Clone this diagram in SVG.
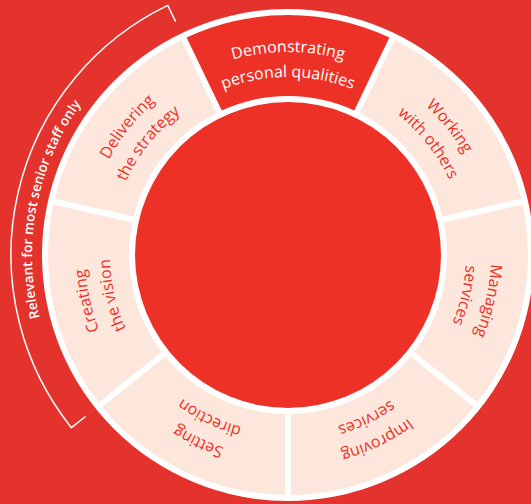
<svg xmlns="http://www.w3.org/2000/svg" width="531" height="504" viewBox="0 0 531 504">
<style>
.lbl{font-family:"Open Sans","DejaVu Sans",sans-serif;font-size:16px;fill:#ec3127;text-anchor:middle}
.w{fill:#ffffff}
.seg{fill:#fde6dc}
.note{font-family:"Open Sans","DejaVu Sans",sans-serif;font-size:13.5px;font-weight:600;fill:#ffffff;text-anchor:middle}
.sep{stroke:#ffffff;stroke-width:6}
</style>
<defs>
<path id="seg" d="M183.9,38.8 A240,240 0 0 1 392.1,38.8 L357.0,111.7 A159,159 0 0 0 219.0,111.7 Z"/>
<path id="r1" d="M144.46,111.46 A203,203 0 0 1 431.54,111.46"/>
<path id="r2" d="M162.14,129.14 A178,178 0 0 1 413.86,129.14"/>
<path id="r3" d="M106.98,73.98 A256,256 0 0 1 469.02,73.98"/>
<line id="sepl" x1="288" y1="108" x2="288" y2="12"/>
</defs>
<rect width="531" height="504" fill="#e4332c"/>
<circle cx="288" cy="255" r="246" fill="#ffffff"/>
<g id="demonstrating">
<use href="#seg" fill="#ee3127"/>
<text class="lbl w"><textPath href="#r1" startOffset="50%">Demonstrating</textPath></text>
<text class="lbl w"><textPath href="#r2" startOffset="50%">personal qualities</textPath></text>
</g>
<g id="working" transform="rotate(51.43 288 255)">
<use href="#seg" class="seg"/>
<text class="lbl"><textPath href="#r1" startOffset="50%">Working</textPath></text>
<text class="lbl"><textPath href="#r2" startOffset="50%">with others</textPath></text>
</g>
<g id="managing" transform="rotate(102.86 288 255)">
<use href="#seg" class="seg"/>
<text class="lbl"><textPath href="#r1" startOffset="50%">Managing</textPath></text>
<text class="lbl"><textPath href="#r2" startOffset="50%">services</textPath></text>
</g>
<g id="improving" transform="rotate(154.29 288 255)">
<use href="#seg" class="seg"/>
<text class="lbl"><textPath href="#r1" startOffset="50%">Improving</textPath></text>
<text class="lbl"><textPath href="#r2" startOffset="50%">services</textPath></text>
</g>
<g id="setting" transform="rotate(205.71 288 255)">
<use href="#seg" class="seg"/>
<text class="lbl"><textPath href="#r1" startOffset="50%">Setting</textPath></text>
<text class="lbl"><textPath href="#r2" startOffset="50%">direction</textPath></text>
</g>
<g id="creating" transform="rotate(257.14 288 255)">
<use href="#seg" class="seg"/>
<text class="lbl"><textPath href="#r1" startOffset="50%">Creating</textPath></text>
<text class="lbl"><textPath href="#r2" startOffset="50%">the vision</textPath></text>
</g>
<g id="delivering" transform="rotate(308.57 288 255)">
<use href="#seg" class="seg"/>
<text class="lbl"><textPath href="#r1" startOffset="50%">Delivering</textPath></text>
<text class="lbl"><textPath href="#r2" startOffset="50%">the strategy</textPath></text>
</g>
<g id="separators" class="sep">
<use href="#sepl" transform="rotate(25.71 288 255)"/>
<use href="#sepl" transform="rotate(77.14 288 255)"/>
<use href="#sepl" transform="rotate(128.57 288 255)"/>
<use href="#sepl" transform="rotate(180 288 255)"/>
<use href="#sepl" transform="rotate(231.43 288 255)"/>
<use href="#sepl" transform="rotate(282.86 288 255)"/>
<use href="#sepl" transform="rotate(334.29 288 255)"/>
</g>
<circle id="centre" cx="288" cy="255" r="153" fill="#ee3127"/>
<g id="senior-bracket">
<path d="M85.5,416.5 L71.4,427.7 A277,277 0 0 1 167.8,5.4 L175.6,21.6" fill="none" stroke="#ffffff" stroke-width="1.5"/>
<text class="note" transform="rotate(-79 288 255)"><textPath href="#r3" startOffset="50%">Relevant for most senior staff only</textPath></text>
</g>
</svg>
